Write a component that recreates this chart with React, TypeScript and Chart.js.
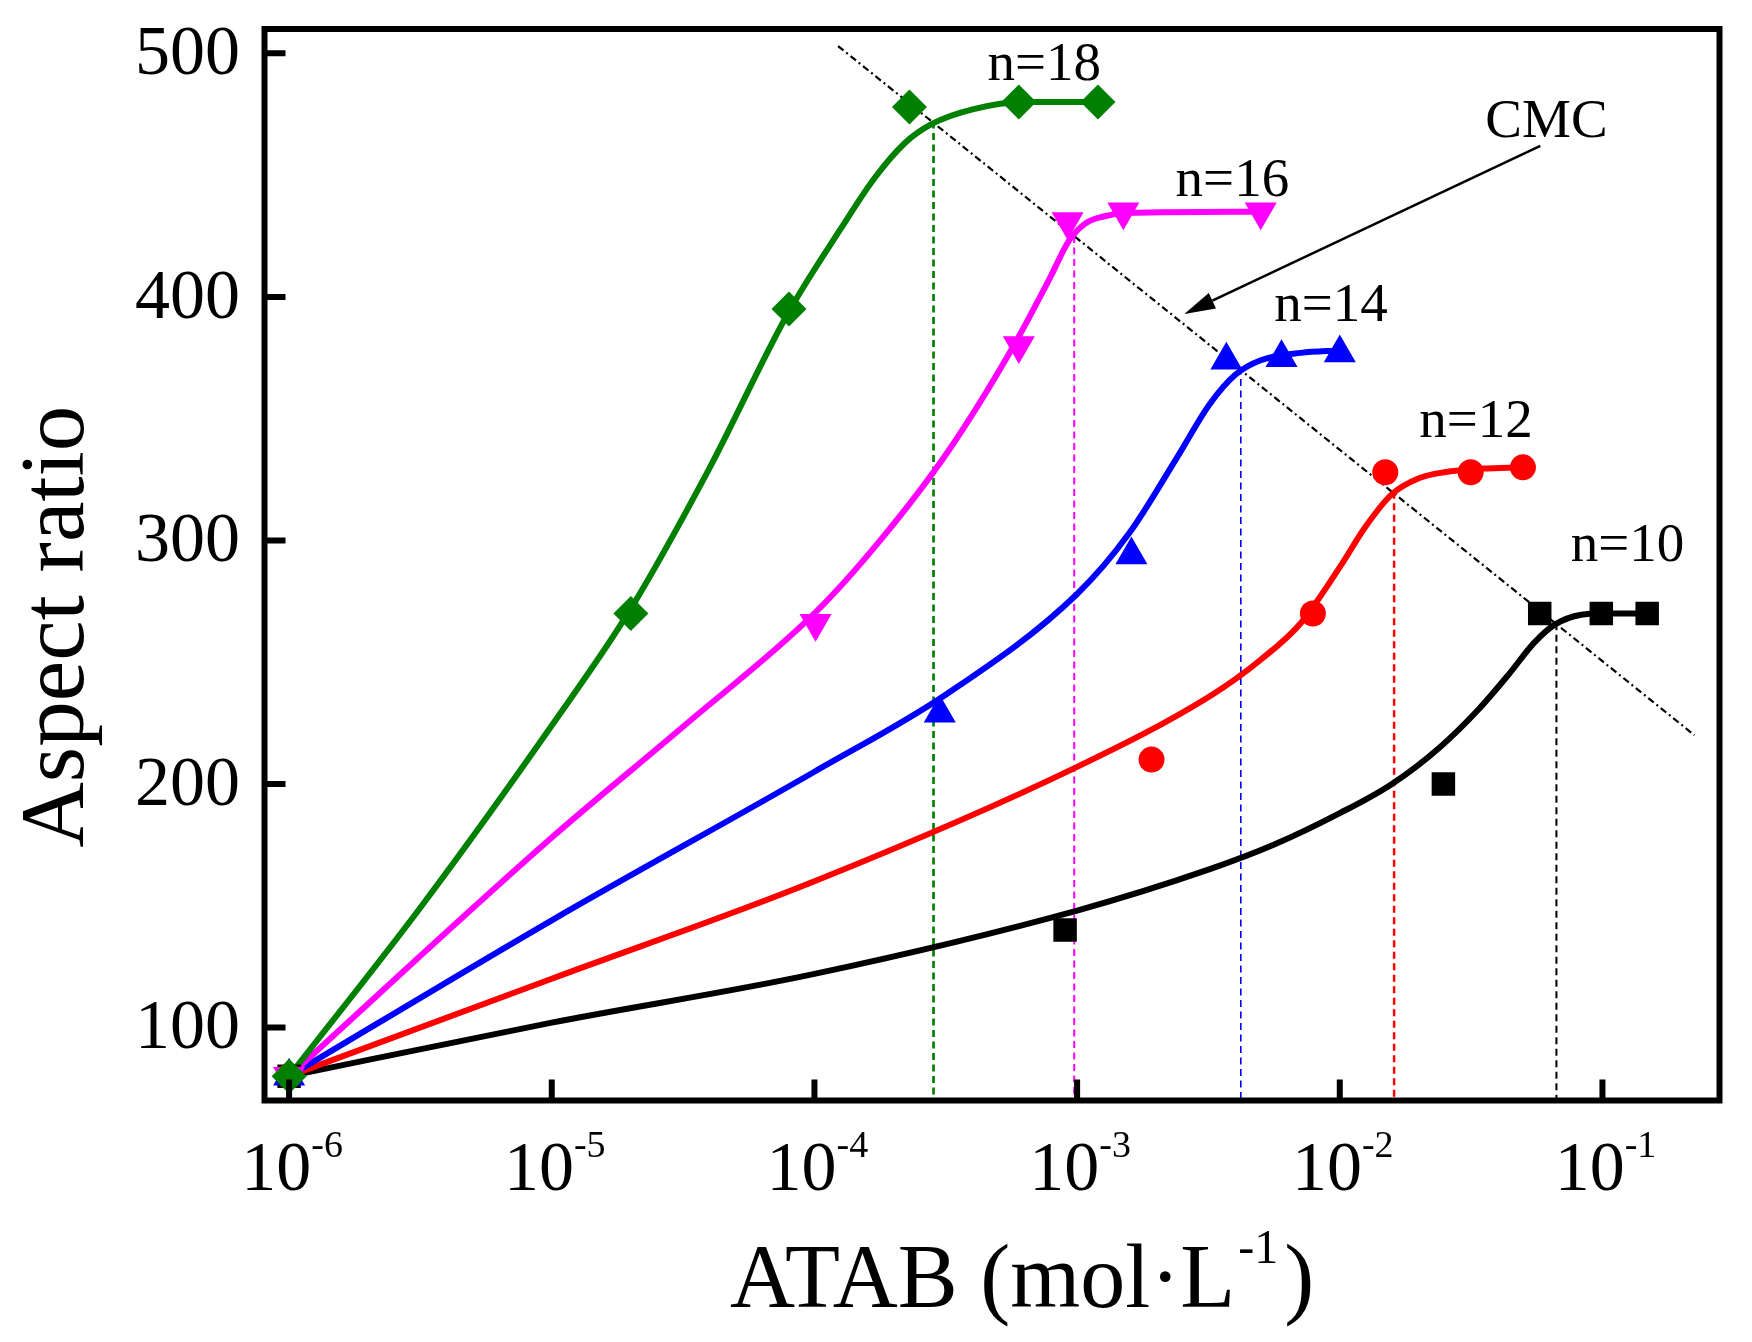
import { useEffect, useRef } from "react"
import { Chart, registerables } from "chart.js"

Chart.register(...registerables)

const FONT = '"Liberation Serif", "Times New Roman", serif'

// axis ranges and ticks
const xMin = 8.06e-7
const xMax = 0.279
const yMin = 70
const yMax = 510
const xTicks = [1e-6, 1e-5, 1e-4, 1e-3, 1e-2, 1e-1]
const xTickExp = ["-6", "-5", "-4", "-3", "-2", "-1"]
const yTicks = [100, 200, 300, 400, 500]

// measured points (markers)
const n10X = [1e-6, 9.0e-4, 2.48e-2, 5.77e-2, 9.9e-2, 0.148]
const n10Y = [80, 140, 200, 270, 270, 270]
const n12X = [1e-6, 1.92e-3, 7.9e-3, 1.49e-2, 3.15e-2, 4.98e-2]
const n12Y = [80, 210, 270, 328, 328, 330]
const n14X = [1e-6, 3.0e-4, 1.61e-3, 3.7e-3, 6.0e-3, 1.0e-2]
const n14Y = [80, 229, 294, 374, 375, 377]
const n16X = [1e-6, 1.01e-4, 6.0e-4, 9.2e-4, 1.5e-3, 5.0e-3]
const n16Y = [80, 266, 380, 431, 435, 435]
const n18X = [1e-6, 2.0e-5, 8.0e-5, 2.3e-4, 6.0e-4, 1.2e-3]
const n18Y = [80, 270, 395, 478, 480, 480]

// fitted curves
const fit10X = [1e-6, 1e-5, 1e-4, 1e-3, 3.2e-3, 5.6e-3, 1e-2, 1.58e-2, 2.4e-2, 3.4e-2, 4.4e-2, 5.5e-2, 6.6e-2, 8.3e-2, 0.1, 0.148]
const fit10Y = [80, 102, 122, 148, 165, 175, 188, 200, 215, 231, 245, 258, 265.5, 269.5, 270, 270]
const fit12X = [1e-6, 1e-5, 1e-4, 1e-3, 3.2e-3, 5e-3, 7.1e-3, 1e-2, 1.26e-2, 1.58e-2, 2e-2, 2.5e-2, 3.5e-2, 4.9e-2]
const fit12Y = [80, 120, 160, 207, 236, 251, 266, 289, 306, 319, 325.5, 328, 329.5, 330]
const fit14X = [1e-6, 1e-5, 1e-4, 3.2e-4, 1e-3, 1.58e-3, 2.4e-3, 3.2e-3, 4e-3, 5e-3, 7.1e-3, 1e-2]
const fit14Y = [80, 144, 205, 237, 278, 303, 334, 356, 368, 374, 377, 378]
const fit16X = [1e-6, 1e-5, 3.2e-5, 1e-4, 1.78e-4, 3.2e-4, 5.6e-4, 7.9e-4, 9.3e-4, 1.07e-3, 1.26e-3, 1.58e-3, 4.9e-3]
const fit16Y = [80, 178, 224, 270, 300, 336, 378, 408, 423, 430, 433, 434.5, 435]
const fit18X = [1e-6, 3.2e-6, 1e-5, 2e-5, 4e-5, 7.9e-5, 1.26e-4, 1.7e-4, 2.2e-4, 2.8e-4, 4e-4, 6.3e-4, 1.2e-3]
const fit18Y = [80, 150, 224, 272, 330, 393, 428, 449, 463, 471, 477, 480, 480]

// CMC drop lines (n=18, 16, 14, 12, 10)
const dropX = [2.84e-4, 9.75e-4, 4.2e-3, 1.61e-2, 6.68e-2]
const dropTop = [472, 425, 371, 320, 266]
const dropWidth = [2.7, 2, 1.6, 2.5, 2]

// CMC guide line and arrow
const cmcX = [1.23e-4, 0.224]
const cmcY = [503, 220]
const arrowX = [5.8e-2, 2.56e-3]
const arrowY = [462, 393]

// text labels
const labelText = ["n=18", "n=16", "n=14", "n=12", "n=10", "CMC"]
const labelX = [7.5e-4, 3.9e-3, 9.25e-3, 3.3e-2, 0.1245, 0.0612]
const labelY = [489, 441.5, 390, 342.5, 291.5, 465.5]

const GREEN = "#008000"
const MAGENTA = "#ff00ff"
const BLUE = "#0000ff"
const RED = "#ff0000"
const BLACK = "#000000"

const pts = (xs: number[], ys: number[]) => xs.map((x, i) => ({ x, y: ys[i] }))

const markerSet = (xs: number[], ys: number[], color: string, style: string, radius: number, rotation = 0) => ({
  data: pts(xs, ys),
  showLine: false,
  pointStyle: style,
  pointRadius: radius,
  pointRotation: rotation,
  pointBackgroundColor: color,
  pointBorderColor: color,
  pointBorderWidth: 0,
  order: 0,
})

const curveSet = (xs: number[], ys: number[], color: string) => ({
  data: pts(xs, ys),
  borderColor: color,
  borderWidth: 6,
  pointRadius: 0,
  cubicInterpolationMode: "monotone",
  fill: false,
  order: 1,
})

const dropColors = [GREEN, MAGENTA, BLUE, RED, BLACK]

const overlayPlugin = {
  id: "overlay",
  afterDatasetsDraw(chart: any) {
    const { ctx, chartArea: a, scales } = chart
    const xs = scales.x
    const ys = scales.y
    ctx.save()
    ctx.fillStyle = "#000"
    ctx.strokeStyle = "#000"

    // frame
    ctx.lineWidth = 6
    ctx.lineJoin = "miter"
    ctx.strokeRect(a.left, a.top, a.right - a.left, a.bottom - a.top)

    // inward ticks
    ctx.beginPath()
    yTicks.forEach((v) => {
      const py = ys.getPixelForValue(v)
      ctx.moveTo(a.left, py)
      ctx.lineTo(a.left + 21, py)
    })
    xTicks.forEach((v) => {
      const px = xs.getPixelForValue(v)
      ctx.moveTo(px, a.bottom)
      ctx.lineTo(px, a.bottom - 21)
    })
    ctx.stroke()

    // y tick labels
    ctx.font = `70px ${FONT}`
    ctx.textAlign = "right"
    ctx.textBaseline = "alphabetic"
    yTicks.forEach((v) => {
      ctx.fillText(String(v), a.left - 24.5, ys.getPixelForValue(v) + 21)
    })

    // x tick labels: 10 with superscript exponent
    ctx.textAlign = "left"
    xTicks.forEach((v, i) => {
      const px = xs.getPixelForValue(v)
      ctx.font = `70px ${FONT}`
      const w1 = ctx.measureText("10").width
      ctx.font = `38px ${FONT}`
      const w2 = ctx.measureText(xTickExp[i]).width
      const x0 = px - (w1 + w2) / 2 + 3
      const base = a.bottom + 89.5
      ctx.font = `70px ${FONT}`
      ctx.fillText("10", x0, base)
      ctx.font = `38px ${FONT}`
      ctx.fillText(xTickExp[i], x0 + w1, base - 33)
    })

    // x axis title
    const mainTxt = "ATAB (mol·L"
    ctx.font = `90px ${FONT}`
    const wMain = ctx.measureText(mainTxt).width
    const wClose = ctx.measureText(")").width
    ctx.font = `48px ${FONT}`
    const wSup = ctx.measureText("-1").width
    const total = wMain + 3 + wSup + 6 + wClose
    let tx = (a.left + a.right) / 2 + 30 - total / 2
    const tBase = a.bottom + 206
    ctx.font = `90px ${FONT}`
    ctx.fillText(mainTxt, tx, tBase)
    tx += wMain + 3
    ctx.font = `48px ${FONT}`
    ctx.fillText("-1", tx, tBase - 44)
    tx += wSup + 6
    ctx.font = `90px ${FONT}`
    ctx.fillText(")", tx, tBase)

    // y axis title
    ctx.save()
    ctx.translate(83, (a.top + a.bottom) / 2 + 62)
    ctx.rotate(-Math.PI / 2)
    ctx.textAlign = "center"
    ctx.font = `91px ${FONT}`
    ctx.fillText("Aspect ratio", 0, 0)
    ctx.restore()

    // series labels
    ctx.font = `55px ${FONT}`
    ctx.textAlign = "center"
    labelText.forEach((t, i) => {
      ctx.fillText(t, xs.getPixelForValue(labelX[i]), ys.getPixelForValue(labelY[i]))
    })

    // arrow pointing at the CMC line
    const x1 = xs.getPixelForValue(arrowX[0])
    const y1 = ys.getPixelForValue(arrowY[0])
    const x2 = xs.getPixelForValue(arrowX[1])
    const y2 = ys.getPixelForValue(arrowY[1])
    const ang = Math.atan2(y2 - y1, x2 - x1)
    const headLen = 31
    const headHalf = 8.5
    const bx = x2 - Math.cos(ang) * headLen
    const by = y2 - Math.sin(ang) * headLen
    ctx.lineWidth = 2.5
    ctx.beginPath()
    ctx.moveTo(x1, y1)
    ctx.lineTo(bx, by)
    ctx.stroke()
    ctx.beginPath()
    ctx.moveTo(x2, y2)
    ctx.lineTo(bx + Math.sin(ang) * headHalf, by - Math.cos(ang) * headHalf)
    ctx.lineTo(bx - Math.sin(ang) * headHalf, by + Math.cos(ang) * headHalf)
    ctx.closePath()
    ctx.fill()

    ctx.restore()
  },
}

export default function App() {
  const canvasRef = useRef<HTMLCanvasElement>(null)
  const chartRef = useRef<Chart | null>(null)

  useEffect(() => {
    if (!canvasRef.current) return
    if (chartRef.current) chartRef.current.destroy()

    const drops = dropX.map((x, i) => ({
      data: [
        { x, y: dropTop[i] },
        { x, y: yMin },
      ],
      borderColor: dropColors[i],
      borderWidth: dropWidth[i],
      borderDash: [7, 4.5],
      pointRadius: 0,
      order: 2,
    }))

    chartRef.current = new Chart(canvasRef.current, {
      type: "line",
      data: {
        datasets: [
          markerSet(n18X, n18Y, GREEN, "rectRot", 17.5),
          markerSet(n16X, n16Y, MAGENTA, "triangle", 18.5, 180),
          markerSet(n14X, n14Y, BLUE, "triangle", 18.5),
          markerSet(n12X, n12Y, RED, "circle", 13),
          markerSet(n10X, n10Y, BLACK, "rect", 16.6),
          curveSet(fit18X, fit18Y, GREEN),
          curveSet(fit16X, fit16Y, MAGENTA),
          curveSet(fit14X, fit14Y, BLUE),
          curveSet(fit12X, fit12Y, RED),
          curveSet(fit10X, fit10Y, BLACK),
          ...drops,
          {
            data: pts(cmcX, cmcY),
            borderColor: BLACK,
            borderWidth: 2.2,
            borderDash: [7, 3.5, 2, 3.5],
            pointRadius: 0,
            order: 2,
          },
        ] as any,
      },
      options: {
        responsive: false,
        animation: false,
        events: [],
        layout: {
          padding: { left: 264.5, right: 32.5, top: 29, bottom: 241.5 },
        },
        plugins: {
          legend: { display: false },
          tooltip: { enabled: false },
        },
        scales: {
          x: { type: "logarithmic", min: xMin, max: xMax, display: false },
          y: { type: "linear", min: yMin, max: yMax, display: false },
        },
      },
      plugins: [overlayPlugin],
    })

    return () => {
      if (chartRef.current) {
        chartRef.current.destroy()
        chartRef.current = null
      }
    }
  }, [])

  return (
    <div style={{ position: "absolute", left: 0, top: 0, width: 1752, height: 1342, background: "#ffffff" }}>
      <canvas ref={canvasRef} width={1752} height={1342} style={{ display: "block" }} />
    </div>
  )
}
